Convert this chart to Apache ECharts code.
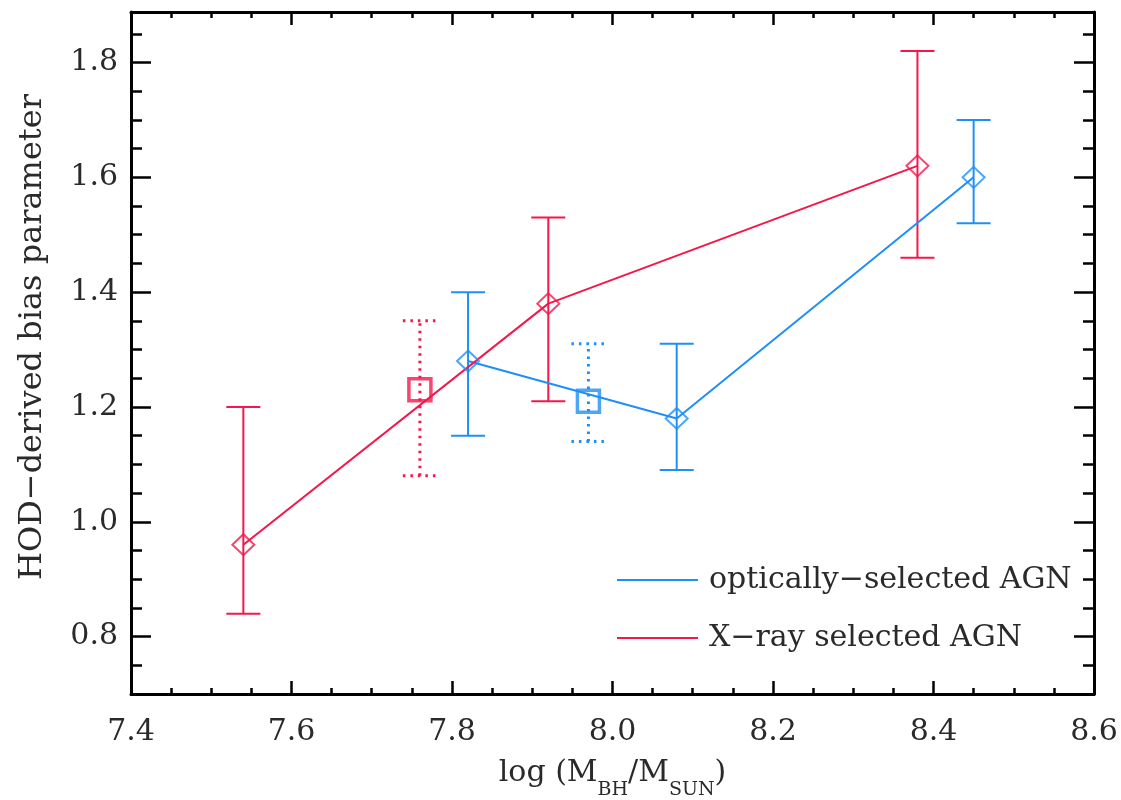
<!DOCTYPE html>
<html>
<head>
<meta charset="utf-8">
<script src="https://cdn.jsdelivr.net/npm/echarts@6/dist/echarts.min.js"></script>
<style>html,body{margin:0;padding:0;background:#fff;}#c{width:1121px;height:800px;}</style>
</head>
<body>
<div id="c"></div>
<script>
// ---- data ----
const xrayName = 'X\u2212ray selected AGN';
const optName = 'optically\u2212selected AGN';
const xrayX = [7.54, 7.92, 8.38];
const xrayY = [0.96, 1.38, 1.62];
const xrayLo = [0.84, 1.21, 1.46];
const xrayHi = [1.20, 1.53, 1.82];
const optX = [7.82, 8.08, 8.45];
const optY = [1.28, 1.18, 1.60];
const optLo = [1.15, 1.09, 1.52];
const optHi = [1.40, 1.31, 1.70];
const xraySqX = [7.76];
const xraySqY = [1.23];
const xraySqLo = [1.08];
const xraySqHi = [1.35];
const optSqX = [7.97];
const optSqY = [1.21];
const optSqLo = [1.14];
const optSqHi = [1.31];
const xTicks = [7.4, 7.6, 7.8, 8.0, 8.2, 8.4, 8.6];
const yTicks = [0.8, 1.0, 1.2, 1.4, 1.6, 1.8];
const xRange = [7.4, 8.6];
const yRange = [0.7, 1.888];

// ---- styles ----
const RED = '#f5164b';
const BLUE = '#1e90f5';
const FONT = 'DejaVu Serif';
const TXT = '#2a2a2a';

const yMinor = [];
for (let k = 15; k <= 37; k++) {
  const v = +(k * 0.05).toFixed(2);
  if (!yTicks.some(t => Math.abs(t - v) < 1e-6)) yMinor.push(v);
}

const zip = (a, b) => a.map((v, i) => [v, b[i]]);
const zip3 = (a, b, c) => a.map((v, i) => [v, b[i], c[i]]);

function errRender(color, dotted) {
  return function (params, api) {
    const x = api.value(0), lo = api.value(1), hi = api.value(2);
    const pL = api.coord([x, lo]), pH = api.coord([x, hi]);
    const hw = 17;
    const style = { stroke: color, lineWidth: dotted ? 3 : 2, lineDash: dotted ? [2.5, 5] : null, fill: null };
    return {
      type: 'group',
      children: [
        { type: 'line', shape: { x1: pL[0], y1: pL[1], x2: pH[0], y2: pH[1] }, style: style },
        { type: 'line', shape: { x1: pL[0] - hw, y1: pL[1], x2: pL[0] + hw, y2: pL[1] }, style: style },
        { type: 'line', shape: { x1: pH[0] - hw, y1: pH[1], x2: pH[0] + hw, y2: pH[1] }, style: style }
      ]
    };
  };
}

const axisLine = { show: true, lineStyle: { color: '#000', width: 3 } };
const lbl = { fontFamily: FONT, fontSize: 30, color: TXT };

function yAx(pos, ticks, len, opts) {
  return Object.assign({
    type: 'value', position: pos, min: yRange[0], max: yRange[1],
    axisLine: { show: false },
    axisTick: { show: true, inside: true, length: len, customValues: ticks, lineStyle: { color: '#000', width: 2.5 } },
    axisLabel: { show: false },
    splitLine: { show: false }
  }, opts || {});
}

const option = {
  animation: false,
  backgroundColor: '#fff',
  grid: { left: 131, right: 27, top: 12, bottom: 106, containLabel: false, outerBoundsMode: 'none' },
  legend: {
    orient: 'vertical', left: 612, top: 558, itemGap: 24,
    itemWidth: 81, itemHeight: 2,
    textStyle: { fontFamily: FONT, fontSize: 30, color: TXT, lineHeight: 34, padding: [0, 0, 0, 6] },
    data: [
      { name: optName, icon: 'rect', itemStyle: { color: BLUE } },
      { name: xrayName, icon: 'rect', itemStyle: { color: RED } }
    ]
  },
  xAxis: [
    {
      type: 'value', position: 'bottom', min: xRange[0], max: xRange[1], interval: 0.2,
      axisLine: axisLine,
      axisTick: { inside: true, length: 13, lineStyle: { color: '#000', width: 2.5 } },
      minorTick: { show: true, splitNumber: 4, length: 6, lineStyle: { color: '#000', width: 2.5 } },
      axisLabel: Object.assign({ margin: 23, customValues: xTicks, formatter: v => v.toFixed(1) }, lbl),
      splitLine: { show: false }, minorSplitLine: { show: false },
      name: '{m|log (M}{s|BH}{m|/M}{s|SUN}{m|)}',
      nameLocation: 'middle', nameGap: 58,
      nameTextStyle: {
        rich: {
          m: { fontFamily: FONT, fontSize: 30, color: TXT, verticalAlign: 'bottom', lineHeight: 36 },
          s: { fontFamily: FONT, fontSize: 19, color: TXT, verticalAlign: 'bottom', lineHeight: 26, padding: [0, 0, -12, 0] }
        }
      }
    },
    {
      type: 'value', position: 'top', min: xRange[0], max: xRange[1], interval: 0.2,
      axisLine: axisLine,
      axisTick: { inside: true, length: 13, lineStyle: { color: '#000', width: 2.5 } },
      minorTick: { show: true, splitNumber: 4, length: 6, lineStyle: { color: '#000', width: 2.5 } },
      axisLabel: { show: false }, splitLine: { show: false }, minorSplitLine: { show: false }
    }
  ],
  yAxis: [
    yAx('left', yTicks, 20, {
      axisLine: axisLine,
      axisLabel: Object.assign({ show: true, margin: 13, customValues: yTicks, formatter: v => v.toFixed(1) }, lbl),
      name: 'HOD\u2212derived bias parameter',
      nameLocation: 'middle', nameGap: 82,
      nameTextStyle: { fontFamily: FONT, fontSize: 32, color: TXT, padding: [0, 0, 0, 32] }
    }),
    yAx('left', yMinor, 11),
    yAx('right', yTicks, 20, { axisLine: axisLine }),
    yAx('right', yMinor, 11)
  ],
  series: [
    { type: 'custom', name: 'xerr', renderItem: errRender(RED, false), data: zip3(xrayX, xrayLo, xrayHi), encode: { x: 0, y: [1, 2] }, z: 2 },
    { type: 'custom', name: 'oerr', renderItem: errRender(BLUE, false), data: zip3(optX, optLo, optHi), encode: { x: 0, y: [1, 2] }, z: 2 },
    { type: 'custom', name: 'xsqerr', renderItem: errRender(RED, true), data: zip3(xraySqX, xraySqLo, xraySqHi), encode: { x: 0, y: [1, 2] }, z: 2 },
    { type: 'custom', name: 'osqerr', renderItem: errRender(BLUE, true), data: zip3(optSqX, optSqLo, optSqHi), encode: { x: 0, y: [1, 2] }, z: 2 },
    { type: 'line', name: optName, data: zip(optX, optY), symbol: 'none', lineStyle: { color: BLUE, width: 2 }, itemStyle: { color: BLUE }, z: 3 },
    { type: 'line', name: xrayName, data: zip(xrayX, xrayY), symbol: 'none', lineStyle: { color: RED, width: 2 }, itemStyle: { color: RED }, z: 3 },
    { type: 'scatter', name: 'odiam', data: zip(optX, optY), symbol: 'diamond', symbolSize: [22, 21], itemStyle: { color: 'rgba(0,0,0,0)', borderColor: BLUE, borderWidth: 2 }, z: 4 },
    { type: 'scatter', name: 'xdiam', data: zip(xrayX, xrayY), symbol: 'diamond', symbolSize: [22, 21], itemStyle: { color: 'rgba(0,0,0,0)', borderColor: RED, borderWidth: 2 }, z: 4 },
    { type: 'scatter', name: 'osq', data: zip(optSqX, optSqY), symbol: 'rect', symbolSize: 22, itemStyle: { color: 'rgba(0,0,0,0)', borderColor: BLUE, borderWidth: 3.5 }, z: 4 },
    { type: 'scatter', name: 'xsq', data: zip(xraySqX, xraySqY), symbol: 'rect', symbolSize: 22, itemStyle: { color: 'rgba(0,0,0,0)', borderColor: RED, borderWidth: 3.5 }, z: 4 }
  ]
};

const chart = echarts.init(document.getElementById('c'), null, { renderer: 'canvas' });
chart.setOption(option);
</script>
</body>
</html>
